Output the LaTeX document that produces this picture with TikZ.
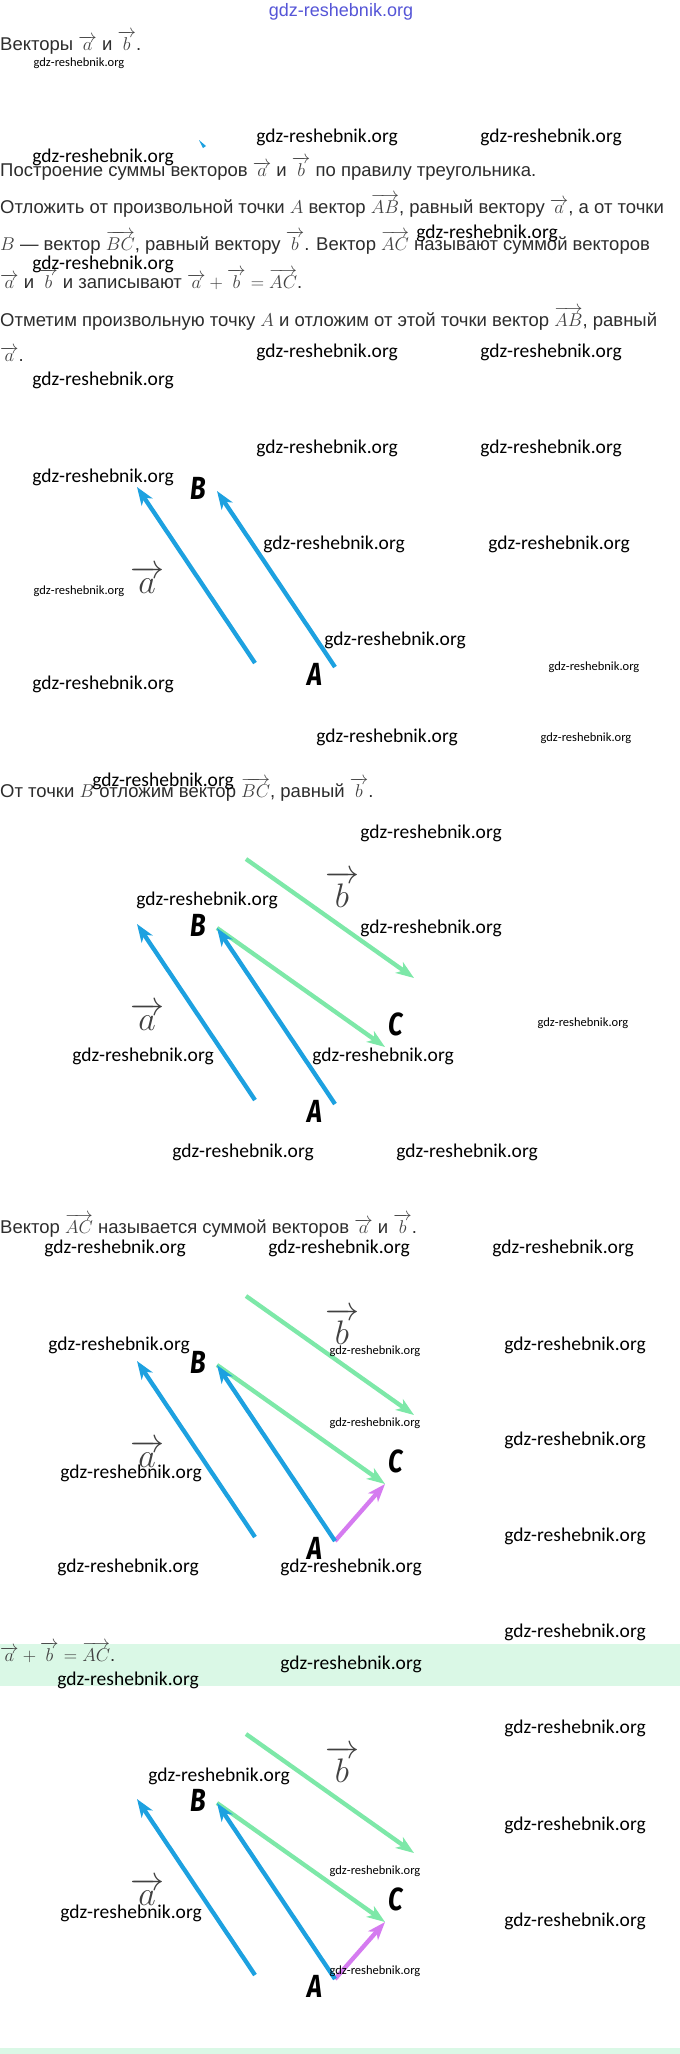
\RequirePackage{fix-cm}
\documentclass[tikz,border=0pt]{standalone}
\usepackage{amsmath}
\usepackage[no-math]{fontspec}
\setmainfont{Liberation Sans}
\newfontfamily\wmfont{Carlito}
\newfontfamily\ptfont[FakeStretch=0.8]{Fira Sans}
\usetikzlibrary{arrows.meta}
\definecolor{vecblue}{RGB}{29,161,224}
\definecolor{vecgreen}{RGB}{125,232,168}
\definecolor{vecpurple}{RGB}{213,123,240}
\definecolor{bandgreen}{RGB}{218,248,230}
\definecolor{txtgray}{RGB}{45,45,45}
\definecolor{mathgray}{RGB}{65,65,65}
\definecolor{wmblue}{RGB}{85,85,215}
\newcommand{\vect}[1]{\overrightarrow{#1}}
\newcommand{\mth}[1]{\textcolor{mathgray}{$#1$}}

\begin{document}
\begin{tikzpicture}[x=1pt,y=-1pt,
    txt/.style={anchor=base west,inner sep=0pt,text=txtgray,font=\fontsize{18.5}{22}\selectfont},
    wm/.style={inner sep=0pt,text=black,font=\wmfont\fontsize{19.5}{20}\selectfont},
    wms/.style={wm,font=\wmfont\fontsize{12.5}{13}\selectfont},
    ptlab/.style={inner sep=0pt,text=black,font=\ptfont\bfseries\itshape\fontsize{32}{32}\selectfont},
    veclab/.style={inner sep=0pt,text=mathgray,font=\fontsize{34}{36}\selectfont},
    vec/.style={line width=4.3pt,-{Stealth[length=18pt,width=13pt,inset=5pt]}}]
  \fill[white](0,0)rectangle(680,2054);
  \useasboundingbox(0,0)rectangle(680,2054);
  % bands
  \fill[bandgreen](0,1644)rectangle(680,1686);
  \fill[bandgreen](0,2048)rectangle(680,2054);
  \fill[vecblue](199,140)--(206,146)--(203,148)--cycle;
  % text lines
  \node[txt](t0) at (0,50) {Векторы \mth{\vect{a}} и \mth{\vect{b}}.};
  \node[txt](t1) at (0,176) {Построение суммы векторов \mth{\vect{a}} и \mth{\vect{b}} по правилу треугольника.};
  \node[txt](t2) at (0,213) {Отложить от произвольной точки \mth{A} вектор \mth{\vect{AB}}, равный вектору \mth{\vect{a}}, а от точки};
  \node[txt](t3) at (0,250) {\mth{B} — вектор \mth{\vect{BC}}, равный вектору \mth{\vect{b}}. Вектор \mth{\vect{AC}} называют суммой векторов};
  \node[txt](t4) at (0,288) {\mth{\vect{a}} и \mth{\vect{b}} и записывают \mth{\vect{a}+\vect{b}=\vect{AC}}.};
  \node[txt](t5) at (0,326) {Отметим произвольную точку \mth{A} и отложим от этой точки вектор \mth{\vect{AB}}, равный};
  \node[txt](t6) at (0,361) {\mth{\vect{a}}.};
  \node[txt](t7) at (0,797) {От точки \mth{B} отложим вектор \mth{\vect{BC}}, равный \mth{\vect{b}}.};
  \node[txt](t8) at (0,1233) {Вектор \mth{\vect{AC}} называется суммой векторов \mth{\vect{a}} и \mth{\vect{b}}.};
  \node[txt](t9) at (0,1661) {\mth{\vect{a}+\vect{b}=\vect{AC}}.};
  % the four drawings
  \foreach \dy [count=\k] in {0,437,874,1312}{
    \begin{scope}[shift={(0,\dy)}]
      \coordinate (Fa\k) at (255,663);
      \coordinate (Ea\k) at (137,487);
      \coordinate (A\k) at (335,667);
      \coordinate (B\k) at (217,491);
      \ifnum\k>1
        \coordinate (Fb\k) at (246,422);
        \coordinate (Eb\k) at (414,541);
        \coordinate (C\k) at (385,610);
        \draw[vec,vecgreen](Fb\k)--(Eb\k);
        \draw[vec,vecgreen](B\k)--(C\k);
        \node[ptlab](lC\k) at (396,587) {C};
        \node[veclab](lb\k) at (342,452) {$\vect{b}$};
      \fi
      \ifnum\k>2
        \draw[vec,vecpurple](A\k)--(C\k);
      \fi
      \draw[vec,vecblue](Fa\k)--(Ea\k);
      \draw[vec,vecblue](A\k)--(B\k);
      \node[ptlab](lB\k) at (198,488) {B};
      \node[ptlab](lA\k) at (315,674) {A};
      \node[veclab](la\k) at (147,580) {$\vect{a}$};
    \end{scope}
  }
  % watermarks
  \node[wm,text=wmblue,font=\fontsize{18}{18}\selectfont](wm0) at (341,12) {gdz-reshebnik.org};
  \foreach \x/\y [count=\i] in {327/137,551/137,103/157,487/233,103/264,327/352,551/352,
      103/380,327/448,551/448,103/477,334/544,559/544,395/640,103/684,387/737,163/781,
      431/833,207/900,431/928,143/1056,383/1056,243/1152,467/1152,115/1248,339/1248,
      563/1248,119/1345,575/1345,575/1440,131/1473,575/1536,128/1567,351/1567,575/1632,
      351/1664,128/1680,575/1728,219/1776,575/1825,131/1913,575/1921}
    \node[wm](wm\i) at (\x,\y) {gdz-reshebnik.org};
  \foreach \x/\y [count=\i] in {79/63,79/591,594/667,586/738,583/1023,375/1351,
      375/1423,375/1871,375/1971}
    \node[wms](wms\i) at (\x,\y) {gdz-reshebnik.org};
\end{tikzpicture}
\end{document}
